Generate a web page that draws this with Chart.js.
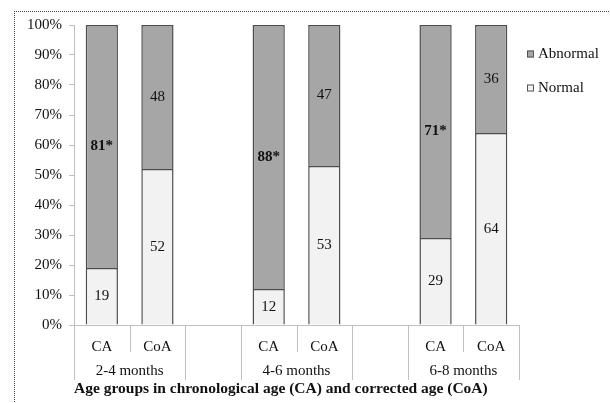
<!DOCTYPE html>
<html>
<head>
<meta charset="utf-8">
<script src="https://cdn.jsdelivr.net/npm/chart.js@4"></script>
<style>
  html, body { margin: 0; padding: 0; background: #fff; overflow: hidden; }
  #wrap { position: relative; width: 610px; height: 403px; }
  #frame { position: absolute; left: 14px; top: 11px; width: 700px; height: 500px;
           border-left: 1px dotted #444; border-top: 1px dotted #444; }
  #myChart { position: absolute; left: 0; top: 0; }
</style>
</head>
<body>
<div id="wrap">
  <div id="frame"></div>
  <canvas id="myChart" width="610" height="403"></canvas>
</div>
<script>
// categorias (slot vazio entre os grupos)
var categories = ['CA', 'CoA', '', 'CA', 'CoA', '', 'CA', 'CoA'];
var groupLabels = ['2-4 months', '2-4 months', '', '4-6 months', '4-6 months', '', '6-8 months', '6-8 months'];

// valores em %
var normalValues = [19, 52, null, 12, 53, null, 29, 64];
var abnormalValues = [81, 48, null, 88, 47, null, 71, 36];
// * = diferença significativa
var abnormalMarks = ['*', '', '', '*', '', '', '*', ''];

var yTicks = [0, 10, 20, 30, 40, 50, 60, 70, 80, 90, 100];
var xTitle = 'Age groups in chronological age (CA) and corrected age (CoA)';

var serif = '"Liberation Serif", "Times New Roman", serif';
var axisGray = '#bfbfbf';

// rótulos dentro das barras
var barLabels = {
  id: 'barLabels',
  afterDatasetsDraw(chart) {
    var ctx = chart.ctx;
    ctx.save();
    ctx.textAlign = 'center';
    ctx.textBaseline = 'middle';
    ctx.fillStyle = '#111';
    chart.data.datasets.forEach(function (ds, di) {
      var meta = chart.getDatasetMeta(di);
      meta.data.forEach(function (el, i) {
        var v = ds.data[i];
        if (v == null) return;
        var mark = di === 1 ? abnormalMarks[i] : '';
        ctx.font = (mark ? 'bold ' : '') + '15px ' + serif;
        ctx.fillText(v + mark, el.x, (el.y + el.base) / 2);
      });
    });
    ctx.restore();
  }
};

// eixo X em dois níveis + legenda
var groupAxis = {
  id: 'groupAxis',
  afterDraw(chart) {
    var ctx = chart.ctx;
    var x = chart.scales.x;
    var n = categories.length;
    var slot = (x.right - x.left) / n;
    var top = x.top;
    ctx.save();
    ctx.strokeStyle = axisGray;
    ctx.lineWidth = 1;
    for (var b = 0; b <= n; b++) {
      var px = Math.round(x.getPixelForValue(b) - slot / 2) + 0.5;
      if (b === n) px = Math.round(x.getPixelForValue(n - 1) + slot / 2) + 0.5;
      var full = b === 0 || b === n || groupLabels[b - 1] !== groupLabels[b];
      ctx.beginPath();
      ctx.moveTo(px, top);
      ctx.lineTo(px, top + (full ? 55 : 27));
      ctx.stroke();
    }
    ctx.fillStyle = '#111';
    ctx.font = '15px ' + serif;
    ctx.textAlign = 'center';
    ctx.textBaseline = 'middle';
    var i = 0;
    while (i < n) {
      var j = i;
      while (j + 1 < n && groupLabels[j + 1] === groupLabels[i]) j++;
      if (groupLabels[i]) {
        var cx = (x.getPixelForValue(i) + x.getPixelForValue(j)) / 2;
        ctx.fillText(groupLabels[i], cx, top + 46);
      }
      i = j + 1;
    }
    // legenda (ordem invertida: Abnormal em cima)
    var items = chart.data.datasets.slice().reverse();
    var lx = chart.chartArea.right + 8;
    items.forEach(function (ds, k) {
      var cy = 54 + k * 34;
      ctx.fillStyle = ds.backgroundColor;
      ctx.fillRect(lx, cy - 3.5, 7, 7);
      ctx.strokeStyle = '#555';
      ctx.strokeRect(lx + 0.5, cy - 3.5 + 0.5, 6, 6);
      ctx.fillStyle = '#111';
      ctx.textAlign = 'left';
      ctx.fillText(ds.label, lx + 11, cy);
    });
    ctx.restore();
  }
};

var ctx = document.getElementById('myChart').getContext('2d');
var myChart = new Chart(ctx, {
  type: 'bar',
  data: {
    labels: categories,
    datasets: [
      {
        label: 'Normal',
        data: normalValues,
        backgroundColor: '#f2f2f2',
        borderColor: '#4d4d4d',
        borderWidth: 1.5,
        barPercentage: 0.58,
        categoryPercentage: 1
      },
      {
        label: 'Abnormal',
        data: abnormalValues,
        backgroundColor: '#a6a6a6',
        borderColor: '#4d4d4d',
        borderWidth: 1.5,
        barPercentage: 0.58,
        categoryPercentage: 1
      }
    ]
  },
  options: {
    responsive: false,
    animation: false,
    layout: { padding: { left: 0, top: 25, right: 91, bottom: 0 } },
    plugins: {
      legend: { display: false },
      tooltip: { enabled: false }
    },
    scales: {
      x: {
        stacked: true,
        grid: { display: false },
        border: { display: true, color: axisGray },
        ticks: { color: '#111', font: { family: serif, size: 15 }, padding: 5, maxRotation: 0 },
        title: {
          display: true,
          text: xTitle,
          align: 'start',
          color: '#111',
          font: { family: serif, size: 15.5, weight: 'bold' },
          padding: { top: 0, bottom: 5 }
        },
        afterFit: function (s) { s.height = 78; }
      },
      y: {
        stacked: true,
        min: 0,
        max: 100,
        afterBuildTicks: function (s) { s.ticks = yTicks.map(function (v) { return { value: v }; }); },
        grid: { drawOnChartArea: false, drawTicks: true, tickLength: 5, color: axisGray },
        border: { display: true, color: axisGray },
        ticks: {
          color: '#111',
          font: { family: serif, size: 15 },
          padding: 7,
          callback: function (v) { return v + '%'; }
        },
        afterFit: function (s) { s.width = 74; }
      }
    }
  },
  plugins: [barLabels, groupAxis]
});
</script>
</body>
</html>
